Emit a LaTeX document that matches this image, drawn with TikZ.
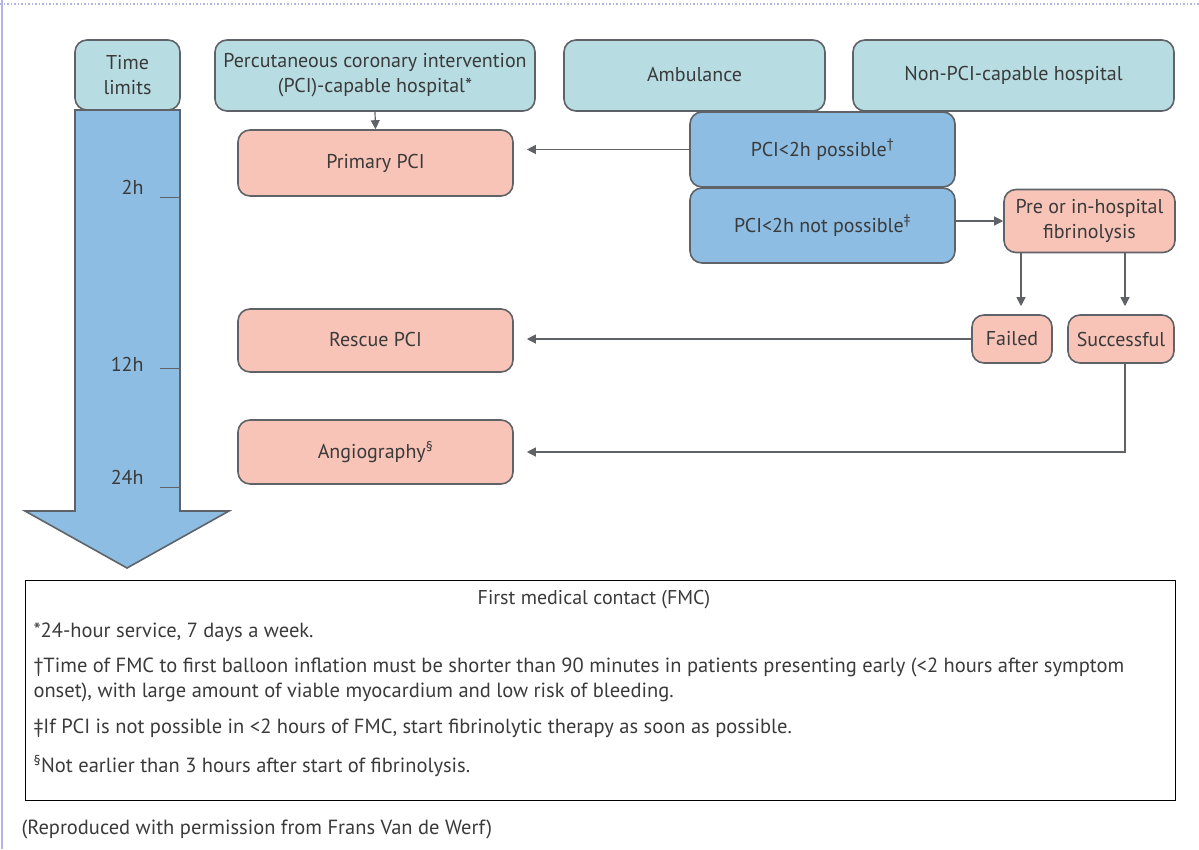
\documentclass[tikz,border=0pt]{standalone}
\usepackage{fontspec}
\setmainfont{PT Sans}
\usetikzlibrary{arrows.meta,positioning,calc}
\definecolor{hdrteal}{HTML}{B7DDE3}
\definecolor{stepblue}{HTML}{8DBDE2}
\definecolor{actpink}{HTML}{F8C4B8}
\definecolor{edgegray}{HTML}{5F6368}
\definecolor{txtgray}{HTML}{3A3A3A}
\definecolor{frameblue}{HTML}{B4B4E4}
\tikzset{
  blk/.style={draw=edgegray,rectangle,rounded corners=12pt,line width=1.6pt,align=center,text=txtgray,font=\fontsize{20}{25}\selectfont},
  hdrblk/.style={blk,fill=hdrteal,minimum height=71pt},
  pcblk/.style={blk,fill=stepblue,minimum width=265pt,minimum height=75pt},
  actblk/.style={blk,fill=actpink},
  arr/.style={-{Triangle[length=9pt,width=9pt]},edgegray,line width=1.2pt},
  tick/.style={edgegray,line width=1pt},
  lbl/.style={text=txtgray,font=\fontsize{20}{25}\selectfont},
  fnote/.style={text=txtgray,font=\fontsize{20.5}{25}\selectfont,anchor=west,align=left}
}
\begin{document}
\begin{tikzpicture}[x=1pt,y=-1pt]
  \useasboundingbox (0,0) rectangle (1199,849);
  % Page frame
  \draw[frameblue,line width=1.5pt,dotted] (0,4) -- (1199,4);
  \draw[frameblue,line width=1.5pt] (2,0) -- (2,849);

  % Time arrow
  \draw[edgegray,line width=1.6pt,fill=stepblue] (75,110) -- (180,110) -- (180,511) -- (229,511) -- (127,568) -- (25,511) -- (75,511) -- cycle;
  \draw[edgegray,line width=1.6pt,fill=hdrteal,rounded corners=12pt] (75,110) -- (75,40) -- (180,40) -- (180,110) -- cycle;
  \node[lbl,align=center] (tlim) at (127.5,75) {Time\\limits};
  \foreach \y/\t/\n/\d in {197/2h/t2/10, 368/12h/t12/4, 487/24h/t24/10}
    \draw[tick] (160,\y) -- (180,\y) node[lbl,anchor=east,inner sep=0pt] (\n) at (144,\y-\d) {\t};

  % Header boxes
  \node[hdrblk,minimum width=320pt] (pcihosp) at (375,75.5) {Percutaneous coronary intervention\\(PCI)-capable hospital*};
  \node[hdrblk,minimum width=261pt] (amb) at (694.5,75.5) {\raisebox{2pt}{Ambulance}};
  \node[hdrblk,minimum width=321pt] (nonpci) at (1013.5,75.5) {\raisebox{2pt}{Non-PCI-capable hospital}};

  % PCI branches
  \node[pcblk] (poss) at (822.5,149.5) {PCI<2h possible\textsuperscript{\dag}};
  \node[pcblk] (notposs) at (822.5,225.5) {PCI<2h not possible\textsuperscript{\ddag}};

  % Treatment boxes
  \node[actblk,minimum width=275pt,minimum height=66pt] (primary) at (375.5,163) {\raisebox{-3pt}{Primary PCI}};
  \node[actblk,minimum width=275pt,minimum height=63pt] (rescue) at (375.5,340.5) {\raisebox{2pt}{Rescue PCI}};
  \node[actblk,minimum width=275pt,minimum height=64pt] (angio) at (375.5,452) {\raisebox{4pt}{Angiography\textsuperscript{\S}}};
  \node[actblk,minimum width=171pt,minimum height=63pt,inner sep=2pt] (fibrin) at (1089.5,221) {Pre or in-hospital\\fibrinolysis};
  \node[actblk,minimum width=80pt,minimum height=48pt,inner sep=2pt] (failed) at (1012,339) {Failed};
  \node[actblk,minimum width=106pt,minimum height=48pt,inner sep=2pt] (success) at (1121,339) {Successful};

  % Connections
  \draw[arr] (pcihosp.south) -- (primary.north);
  \draw[arr,shorten >=13pt] (poss.west) -- (poss.west -| primary.east);
  \draw[arr] (notposs.east |- fibrin.west) -- (fibrin.west);
  \draw[arr,shorten >=8pt] (fibrin.south -| failed.north) ++(9,0) coordinate (fa) -- (fa |- failed.north);
  \draw[arr,shorten >=8pt] (fibrin.south -| success.north) ++(4,0) coordinate (fb) -- (fb |- success.north);
  \draw[arr,shorten >=13pt] (failed.west) -- (failed.west -| rescue.east);
  \coordinate (sbend) at ($(fb |- angio.east)$);
  \draw[arr,shorten >=13pt] (fb |- success.south) -- (sbend) -- (angio.east);

  % Footnotes
  \draw[black,line width=1pt] (25,580) rectangle (1175,800);
  \node[lbl] (fmc) at (594,600) {First medical contact (FMC)};
  \node[fnote] (fn1) at (30,632) {*24-hour service, 7 days a week.};
  \node[fnote] (fn2) at (30,679.5) {\dag Time of FMC to first balloon inflation must be shorter than 90 minutes in patients presenting early (<2 hours after symptom\\onset), with large amount of viable myocardium and low risk of bleeding.};
  \node[fnote] (fn3) at (30,728) {\ddag If PCI is not possible in <2 hours of FMC, start fibrinolytic therapy as soon as possible.};
  \node[fnote] (fn4) at (30,766) {\textsuperscript{\S}Not earlier than 3 hours after start of fibrinolysis.};
  \node[fnote] (credit) at (18,829) {(Reproduced with permission from Frans Van de Werf)};
\end{tikzpicture}
\end{document}
